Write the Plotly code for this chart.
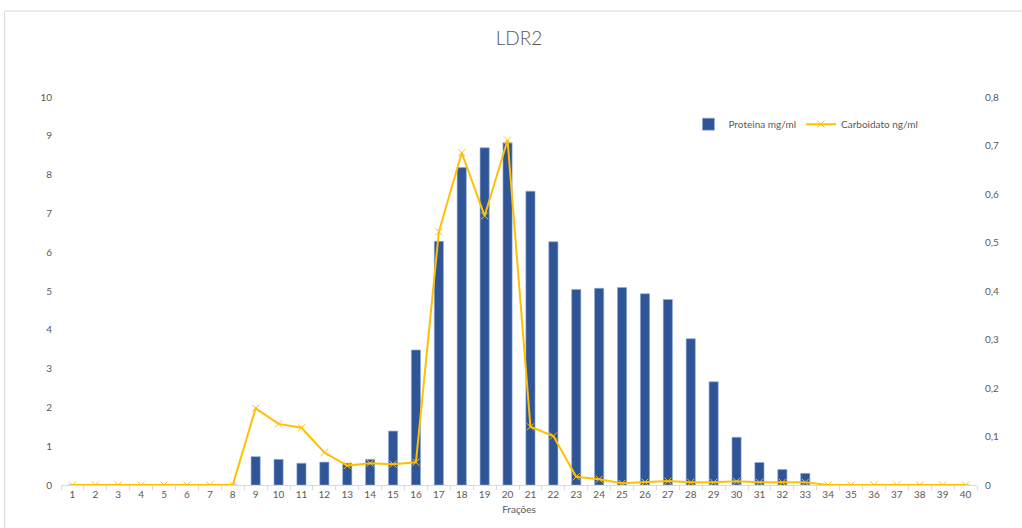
import plotly.graph_objects as go

# Frações 1..40
fracoes = [str(i) for i in range(1, 41)]

# Proteina (mg/ml), left axis
proteina = [0, 0, 0, 0, 0, 0, 0, 0,
            0.73, 0.66, 0.56, 0.59, 0.56, 0.66, 1.39, 3.48,
            6.28, 8.18, 8.69, 8.82, 7.57, 6.27, 5.04, 5.07,
            5.09, 4.93, 4.78, 3.77, 2.66, 1.23, 0.58, 0.40,
            0.30, 0, 0, 0, 0, 0, 0, 0]

# Carboidato (ng/ml), right axis
carboidato = [0, 0, 0, 0, 0, 0, 0, 0,
              0.158, 0.126, 0.118, 0.067, 0.040, 0.045, 0.043, 0.047,
              0.522, 0.685, 0.555, 0.711, 0.120, 0.101, 0.017, 0.012,
              0.0035, 0.006, 0.008, 0.0055, 0.0055, 0.0075, 0.0055, 0.0055,
              0.0055, 0, 0, 0, 0, 0, 0, 0]

TEXT = "#595959"
FONT = "Lato"

fig = go.Figure()

fig.add_trace(go.Bar(
    x=fracoes, y=proteina, name="Proteina mg/ml",
    marker=dict(color="#2F5597", line=dict(color="#8FAADC", width=0.6)),
    width=0.4, yaxis="y",
))

fig.add_trace(go.Scatter(
    x=fracoes, y=carboidato, name="Carboidato ng/ml",
    mode="lines+markers", yaxis="y2",
    line=dict(color="#FFC000", width=2),
    marker=dict(symbol="x-thin", size=7, line=dict(color="#FFC000", width=1)),
))

fig.update_layout(
    width=1022, height=528,
    margin=dict(l=60.5, r=44.5, t=97, b=43),
    paper_bgcolor="white", plot_bgcolor="white",
    separators=",.",
    font=dict(family=FONT, color=TEXT, size=10),
    title=dict(text="LDR2", xref="paper", x=0.5, xanchor="center",
               y=1 - 38 / 528, yanchor="middle",
               font=dict(family=FONT, size=19, color=TEXT, weight=300)),
    showlegend=True,
    legend=dict(orientation="h", x=0.685, xanchor="left", y=0.93, yanchor="middle",
                font=dict(family=FONT, size=10, color=TEXT), bgcolor="rgba(0,0,0,0)",
                itemwidth=30),
    xaxis=dict(type="category", range=[-0.5, len(fracoes) - 0.5],
               showgrid=False, showline=True, linecolor="#D9D9D9",
               ticks="outside", tickson="boundaries", ticklen=4, tickcolor="#D9D9D9",
               tickfont=dict(size=10, color=TEXT),
               title=dict(text="Frações", font=dict(size=10, color=TEXT), standoff=6)),
    yaxis=dict(range=[0, 10], dtick=1, showgrid=False, zeroline=False, showline=False,
               tickfont=dict(size=10, color=TEXT), ticklabelstandoff=8),
    yaxis2=dict(range=[0, 0.8], dtick=0.1, overlaying="y", side="right", showgrid=False,
                zeroline=False, showline=False, tickformat=".1~f",
                tickfont=dict(size=10, color=TEXT), ticklabelstandoff=7),
    bargap=0.6,
)

# Chart frame
fig.add_shape(type="rect", xref="paper", yref="paper",
              x0=-0.0616, x1=1.2, y0=-0.3, y1=1.2216,
              line=dict(color="#D9D9D9", width=1), layer="below")

fig.write_html("out.html")
